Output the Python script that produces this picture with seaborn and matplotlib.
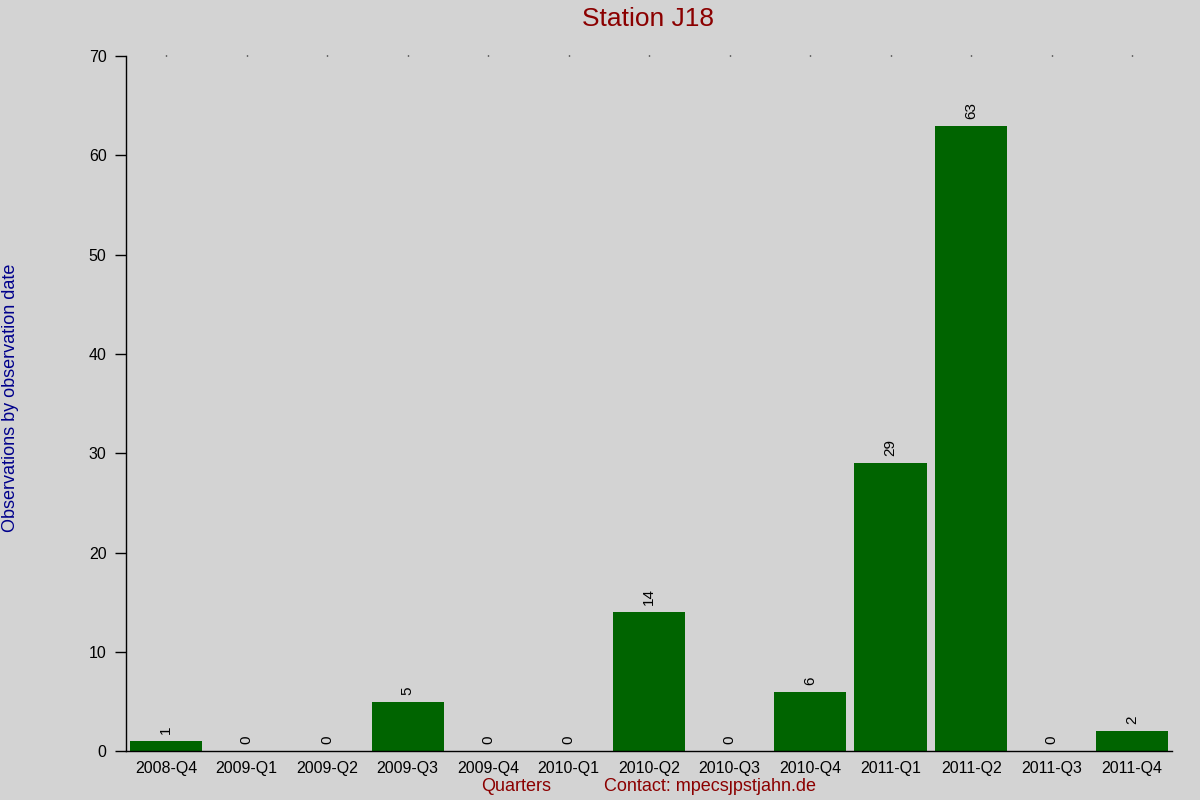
import pandas as pd
import matplotlib
matplotlib.use("Agg")
import matplotlib.pyplot as plt
import seaborn as sns

# Dados do gráfico
trimestres = ["2008-Q4", "2009-Q1", "2009-Q2", "2009-Q3", "2009-Q4", "2010-Q1", "2010-Q2",
              "2010-Q3", "2010-Q4", "2011-Q1", "2011-Q2", "2011-Q3", "2011-Q4"]
observacoes = [1, 0, 0, 5, 0, 0, 14, 0, 6, 29, 63, 0, 2]
y_ticks = [0, 10, 20, 30, 40, 50, 60, 70]

df = pd.DataFrame({"trimestre": trimestres, "obs": observacoes})

sns.set_style("ticks", {"axes.facecolor": "#d3d3d3", "figure.facecolor": "#d3d3d3"})
plt.rcParams["font.family"] = ["Liberation Sans", "DejaVu Sans"]

fig = plt.figure(figsize=(12, 8), dpi=100)
ax = fig.add_axes([0.105, 0.061, 0.872, 0.869])

sns.barplot(data=df, x="trimestre", y="obs", color="#006400", saturation=1,
            width=0.9, linewidth=0, ax=ax)
for c in ax.containers:
    ax.bar_label(c, rotation=90, padding=5, fontsize=11, color="black")

ax.set_xlim(-0.5, len(trimestres) - 0.5)
ax.set_ylim(0, 70)
ax.set_yticks(y_ticks)
ax.set_xlabel("")
ax.set_ylabel("")

for s in ["top", "right"]:
    ax.spines[s].set_visible(False)
ax.spines["left"].set_color("black")
ax.spines["bottom"].set_color("black")
ax.spines["left"].set_linewidth(1)
ax.spines["bottom"].set_linewidth(1)

ax.tick_params(axis="y", direction="out", length=8, width=1, labelsize=11.5, pad=6, colors="black")
ax.tick_params(axis="x", bottom=False, top=True, direction="out", length=1, width=1,
               labelsize=11.5, pad=6, colors="black")

fig.text(0.54, 0.976, "Station J18", ha="center", va="center", fontsize=19, color="#8b0000")
fig.text(0.009, 0.503, "Observations by observation date", rotation=90, ha="center",
         va="center", fontsize=13, color="#00008b")
fig.text(0.43, 0.017, "Quarters", ha="center", va="center", fontsize=13, color="#8b0000")
fig.text(0.592, 0.017, "Contact: mpecs\u0237pstjahn.de", ha="center", va="center",
         fontsize=13, color="#8b0000")

fig.savefig("out.png", dpi=100, facecolor=fig.get_facecolor())
